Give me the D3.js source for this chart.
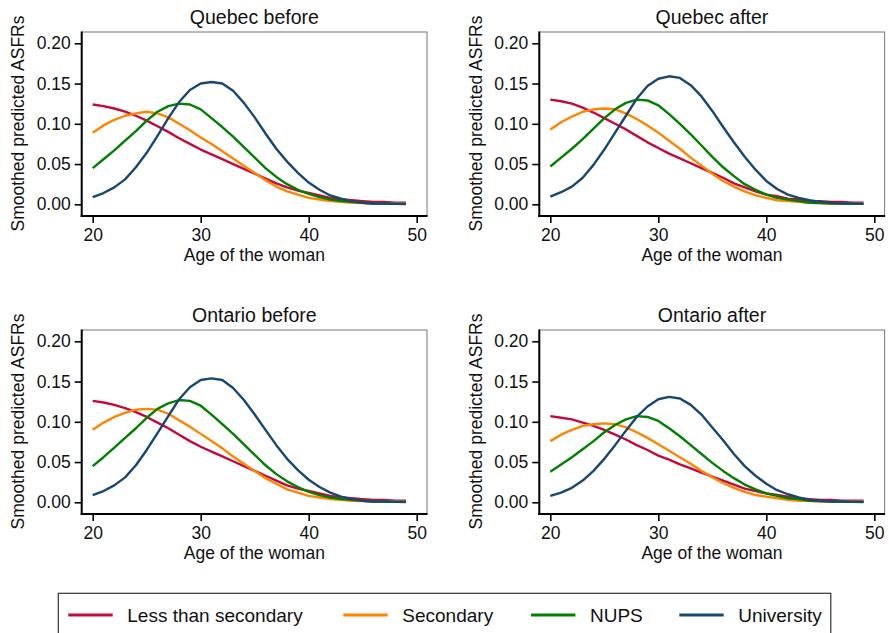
<!DOCTYPE html>
<html>
<head>
<meta charset="utf-8">
<script src="https://cdn.jsdelivr.net/npm/d3@7"></script>
<style>
  html, body { margin: 0; padding: 0; background: #fff; }
  svg { display: block; }
  text { font-family: "Liberation Sans", Arial, Helvetica, sans-serif; fill: #111; }
</style>
</head>
<body>
<script>
// ---------- data ----------
const ages = d3.range(20, 50); // 20..49
const seriesNames = ["Less than secondary", "Secondary", "NUPS", "University"];
const seriesColors = ["#c40a3b", "#ff8400", "#008000", "#1a476f"];
const panelTitles = ["Quebec before", "Quebec after", "Ontario before", "Ontario after"];
const xTicks = [20, 30, 40, 50];
const yTicks = [0, 0.05, 0.10, 0.15, 0.20];

// Quebec before
const qbLess = [0.124,0.122,0.119,0.115,0.110,0.104,0.097,0.090,0.082,0.075,0.068,0.062,0.056,0.050,0.044,0.038,0.032,0.026,0.021,0.017,0.014,0.011,0.008,0.006,0.005,0.004,0.003,0.003,0.002,0.002];
const qbSec  = [0.089,0.098,0.105,0.110,0.113,0.115,0.113,0.108,0.100,0.092,0.083,0.075,0.066,0.057,0.048,0.039,0.030,0.022,0.016,0.012,0.008,0.006,0.004,0.003,0.002,0.0015,0.001,0.001,0.001,0.001];
const qbNups = [0.045,0.056,0.067,0.079,0.091,0.104,0.115,0.122,0.125,0.124,0.118,0.107,0.096,0.084,0.071,0.058,0.045,0.034,0.025,0.018,0.013,0.009,0.006,0.004,0.003,0.002,0.001,0.001,0.0005,0.0005];
const qbUniv = [0.009,0.014,0.021,0.031,0.046,0.064,0.085,0.107,0.127,0.142,0.150,0.152,0.150,0.141,0.126,0.108,0.088,0.069,0.053,0.039,0.027,0.018,0.011,0.007,0.004,0.002,0.001,0.001,0.0005,0.0003];

// Quebec after
const qaLess = [0.130,0.128,0.125,0.120,0.114,0.107,0.100,0.093,0.085,0.077,0.070,0.063,0.057,0.051,0.045,0.039,0.033,0.026,0.021,0.016,0.012,0.010,0.007,0.006,0.004,0.004,0.003,0.003,0.002,0.002];
const qaSec  = [0.093,0.102,0.109,0.115,0.118,0.119,0.118,0.113,0.106,0.098,0.089,0.079,0.069,0.058,0.048,0.038,0.029,0.022,0.016,0.011,0.008,0.005,0.004,0.003,0.002,0.0015,0.001,0.001,0.001,0.001];
const qaNups = [0.047,0.058,0.069,0.081,0.094,0.107,0.118,0.126,0.130,0.129,0.123,0.112,0.100,0.087,0.073,0.059,0.046,0.035,0.025,0.018,0.012,0.008,0.006,0.004,0.002,0.0015,0.001,0.001,0.0005,0.0005];
const qaUniv = [0.0095,0.015,0.022,0.033,0.049,0.068,0.089,0.110,0.131,0.147,0.156,0.159,0.157,0.148,0.134,0.116,0.096,0.077,0.059,0.043,0.029,0.019,0.012,0.008,0.005,0.003,0.002,0.001,0.001,0.0005];

// Ontario before
const obLess = [0.126,0.124,0.121,0.117,0.112,0.106,0.099,0.092,0.084,0.076,0.069,0.063,0.057,0.051,0.045,0.039,0.033,0.027,0.021,0.017,0.014,0.011,0.008,0.006,0.005,0.004,0.003,0.003,0.002,0.002];
const obSec  = [0.090,0.099,0.106,0.111,0.115,0.116,0.115,0.110,0.102,0.094,0.085,0.076,0.067,0.057,0.048,0.039,0.030,0.023,0.016,0.012,0.008,0.006,0.004,0.003,0.002,0.0015,0.001,0.001,0.001,0.001];
const obNups = [0.045,0.056,0.068,0.080,0.092,0.105,0.116,0.123,0.127,0.126,0.120,0.109,0.097,0.085,0.072,0.059,0.046,0.035,0.026,0.019,0.013,0.009,0.006,0.004,0.003,0.002,0.001,0.001,0.0005,0.0005];
const obUniv = [0.009,0.014,0.021,0.031,0.046,0.065,0.086,0.107,0.128,0.143,0.152,0.154,0.152,0.142,0.127,0.109,0.090,0.071,0.054,0.040,0.028,0.019,0.012,0.007,0.004,0.002,0.001,0.001,0.0005,0.0003];

// Ontario after
const oaLess = [0.107,0.105,0.103,0.099,0.095,0.090,0.084,0.078,0.071,0.065,0.058,0.053,0.047,0.042,0.037,0.032,0.027,0.022,0.017,0.014,0.011,0.009,0.007,0.005,0.004,0.003,0.003,0.002,0.002,0.002];
const oaSec  = [0.076,0.084,0.090,0.095,0.097,0.098,0.097,0.093,0.087,0.080,0.072,0.064,0.056,0.048,0.039,0.031,0.024,0.018,0.013,0.009,0.007,0.005,0.003,0.002,0.002,0.001,0.001,0.001,0.001,0.001];
const oaNups = [0.038,0.047,0.056,0.066,0.076,0.087,0.096,0.103,0.107,0.106,0.101,0.092,0.082,0.071,0.060,0.049,0.039,0.030,0.022,0.016,0.011,0.008,0.005,0.004,0.002,0.0015,0.001,0.001,0.0005,0.0005];
const oaUniv = [0.008,0.012,0.018,0.027,0.039,0.054,0.071,0.089,0.106,0.119,0.128,0.131,0.129,0.121,0.109,0.093,0.077,0.060,0.045,0.033,0.023,0.015,0.010,0.006,0.003,0.002,0.001,0.001,0.0005,0.0003];

const panelData = [
  [qbLess, qbSec, qbNups, qbUniv],
  [qaLess, qaSec, qaNups, qaUniv],
  [obLess, obSec, obNups, obUniv],
  [oaLess, oaSec, oaNups, oaUniv]
];

// ---------- layout ----------
const W = 889, H = 633;
const svg = d3.select("body").append("svg").attr("width", W).attr("height", H);

const plotW = 345.3, plotH = 184;
const colX = [81.7, 539.3];
const rowY = [32, 330];

panelData.forEach((series, i) => {
  const c = i % 2, r = Math.floor(i / 2);
  const L = colX[c], T = rowY[r];
  const g = svg.append("g");

  const x = d3.scaleLinear().domain([20, 50]).range([L + 11, L + 335]);
  const y = d3.scaleLinear().domain([0, 0.2]).range([T + 172.3, T + 11.3]);

  // plot frame (top/right grey)
  g.append("rect").attr("x", L).attr("y", T).attr("width", plotW).attr("height", plotH)
    .attr("fill", "#fff").attr("stroke", "#777").attr("stroke-width", 1);

  // lines
  const line = d3.line().x((d, k) => x(ages[k])).y(d => y(d));
  series.forEach((vals, s) => {
    g.append("path").datum(vals).attr("d", line)
      .attr("fill", "none").attr("stroke", seriesColors[s])
      .attr("stroke-width", 2.4).attr("stroke-linejoin", "round");
  });

  // axes
  const yAxis = d3.axisLeft(y).tickValues(yTicks).tickFormat(d3.format(".2f")).tickSize(7).tickPadding(4);
  const ya = g.append("g").attr("transform", `translate(${L},0)`).call(yAxis);
  const xAxis = d3.axisBottom(x).tickValues(xTicks).tickFormat(d3.format("d")).tickSize(7).tickPadding(6);
  const xa = g.append("g").attr("transform", `translate(0,${T + plotH})`).call(xAxis);
  [ya, xa].forEach(a => {
    a.select(".domain").remove();
    a.selectAll(".tick line").attr("stroke", "#000").attr("stroke-width", 1.6);
    a.selectAll(".tick text").style("font-size", "17.5px").attr("fill", "#111")
      .style("font-family", '"Liberation Sans", Arial, sans-serif');
  });

  // black left & bottom axis lines
  g.append("line").attr("x1", L).attr("x2", L).attr("y1", T - 0.5).attr("y2", T + plotH + 1)
    .attr("stroke", "#000").attr("stroke-width", 2);
  g.append("line").attr("x1", L - 1).attr("x2", L + plotW + 0.5).attr("y1", T + plotH).attr("y2", T + plotH)
    .attr("stroke", "#000").attr("stroke-width", 2);

  // title
  g.append("text").attr("x", L + plotW / 2).attr("y", T - 8.5).attr("text-anchor", "middle")
    .style("font-size", "19.5px").text(panelTitles[i]);

  // x label
  g.append("text").attr("x", L + plotW / 2).attr("y", T + 229.3).attr("text-anchor", "middle")
    .style("font-size", "17.5px").text("Age of the woman");

  // y label
  g.append("text")
    .attr("transform", `translate(${L - 57.5},${T + plotH / 2 - 0.5}) rotate(-90)`)
    .attr("text-anchor", "middle")
    .style("font-size", "17.5px").text("Smoothed predicted ASFRs");
});

// ---------- legend ----------
const leg = svg.append("g");
leg.append("rect").attr("x", 58.3).attr("y", 593.3).attr("width", 772.5).attr("height", 60)
  .attr("fill", "#fff").attr("stroke", "#333").attr("stroke-width", 1.2);
const legLineX = [68.3, 343.3, 531, 679.3];
const legY = 615;
seriesNames.forEach((n, s) => {
  leg.append("line").attr("x1", legLineX[s]).attr("x2", legLineX[s] + 44.4)
    .attr("y1", legY).attr("y2", legY)
    .attr("stroke", seriesColors[s]).attr("stroke-width", 3.2);
  leg.append("text").attr("x", legLineX[s] + 59).attr("y", legY + 7)
    .style("font-size", "19px").text(n);
});
</script>
</body>
</html>
